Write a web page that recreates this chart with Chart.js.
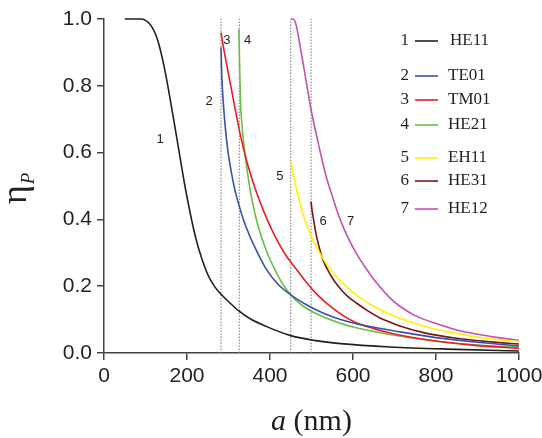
<!DOCTYPE html>
<html>
<head>
<meta charset="utf-8">
<script src="https://cdn.jsdelivr.net/npm/chart.js@4.4.1/dist/chart.umd.min.js"></script>
<style>
  body { margin: 0; background: #fff; }
  canvas { display: block; }
</style>
</head>
<body>
<canvas id="chart" width="542" height="438"></canvas>
<script>
// axis ticks
const xTicks = [0, 200, 400, 600, 800, 1000];
const yTicks = [0.0, 0.2, 0.4, 0.6, 0.8, 1.0];

// mode names and their numbers in the legend
const modeNums = ['1', '2', '3', '4', '5', '6', '7'];
const modeNames = ['HE11', 'TE01', 'TM01', 'HE21', 'EH11', 'HE31', 'HE12'];

// cutoff radii (dotted lines), nm
const cutoffs = [282, 326, 450, 499];

// 1 HE11
const he11X = [50, 90, 100, 108, 116, 124, 132, 141, 150, 165, 180, 195, 210, 222, 235, 250, 267, 285, 305, 325, 350, 392, 450, 510, 570, 690, 850, 1000];
const he11Y = [1.0, 1.0, 0.996, 0.988, 0.975, 0.955, 0.925, 0.88, 0.825, 0.72, 0.61, 0.50, 0.405, 0.34, 0.285, 0.235, 0.198, 0.172, 0.148, 0.126, 0.104, 0.079, 0.052, 0.037, 0.028, 0.018, 0.011, 0.006];
// 2 TE01
const te01X = [282, 283, 285, 288, 292, 298, 307, 315, 324, 337, 352, 370, 392, 420, 450, 490, 529, 570, 600, 650, 700, 800, 900, 1000];
const te01Y = [0.915, 0.86, 0.80, 0.74, 0.68, 0.61, 0.54, 0.49, 0.448, 0.395, 0.348, 0.30, 0.249, 0.205, 0.174, 0.143, 0.119, 0.10, 0.09, 0.077, 0.066, 0.046, 0.032, 0.021];
// 3 TM01
const tm01X = [282, 290, 300, 310, 320, 330, 340, 350, 363, 376, 393, 412, 437, 464, 490, 512, 550, 600, 650, 700, 800, 900, 1000];
const tm01Y = [0.959, 0.90, 0.835, 0.77, 0.705, 0.645, 0.593, 0.548, 0.497, 0.452, 0.40, 0.35, 0.295, 0.25, 0.208, 0.177, 0.135, 0.095, 0.073, 0.057, 0.036, 0.022, 0.014];
// 4 HE21
const he21X = [325, 326, 327, 329, 332, 337, 344, 350, 358, 368, 380, 395, 412, 430, 450, 480, 516, 569, 600, 700, 800, 900, 1000];
const he21Y = [0.969, 0.91, 0.85, 0.75, 0.69, 0.625, 0.555, 0.505, 0.45, 0.395, 0.345, 0.295, 0.249, 0.208, 0.174, 0.14, 0.115, 0.089, 0.078, 0.053, 0.035, 0.024, 0.017];
// 5 EH11
const eh11X = [450, 455, 462, 472, 485, 499, 515, 533, 555, 585, 620, 650, 690, 750, 800, 850, 900, 950, 1000];
const eh11Y = [0.575, 0.54, 0.50, 0.45, 0.395, 0.35, 0.31, 0.272, 0.235, 0.198, 0.163, 0.14, 0.115, 0.088, 0.071, 0.058, 0.048, 0.04, 0.034];
// 6 HE31
const he31X = [499, 501, 505, 512, 520, 528, 545, 565, 585, 609, 635, 665, 690, 713, 770, 850, 925, 1000];
const he31Y = [0.453, 0.43, 0.40, 0.35, 0.31, 0.278, 0.235, 0.199, 0.172, 0.149, 0.127, 0.105, 0.092, 0.081, 0.061, 0.044, 0.034, 0.027];
// 7 HE12
const he12X = [451, 456, 461, 466, 471, 478, 485, 498, 515, 535, 550, 569, 590, 612, 636, 660, 689, 713, 750, 800, 850, 900, 950, 1000];
const he12Y = [1.0, 1.0, 0.99, 0.965, 0.93, 0.88, 0.83, 0.735, 0.635, 0.53, 0.47, 0.40, 0.34, 0.29, 0.245, 0.205, 0.165, 0.14, 0.112, 0.088, 0.069, 0.056, 0.046, 0.038];

const curveX = [he11X, te01X, tm01X, he21X, eh11X, he31X, he12X];
const curveY = [he11Y, te01Y, tm01Y, he21Y, eh11Y, he31Y, he12Y];
const colors = ['#231f20', '#3553a8', '#ed1c24', '#6cbd45', '#fff200', '#7b1418', '#c252b2'];

const ink = '#231f20';
const sans = '"Liberation Sans", Arial, sans-serif';
const serif = '"Liberation Serif", "Times New Roman", serif';

const datasets = curveX.map((xs, i) => ({
    data: xs.map((x, j) => ({ x, y: curveY[i][j] })),
    borderColor: colors[i],
    borderWidth: 1.6,
    pointRadius: 0,
    showLine: true,
    cubicInterpolationMode: 'monotone',
    clip: 4
}));

cutoffs.forEach((c) => {
    datasets.push({
        data: [{ x: c, y: 0 }, { x: c, y: 1 }],
        borderColor: '#777',
        borderWidth: 1,
        borderDash: [1.5, 1.5],
        pointRadius: 0,
        showLine: true
    });
});

// number tags next to curves, in data units
const tagPos = [[135, 0.638], [253, 0.754], [296, 0.937], [346, 0.937], [424, 0.528], [528, 0.393], [594, 0.393]];
// legend rows, in pixels
const legendRows = [41, 76, 100, 125, 158, 181, 209];

const annotate = {
    id: 'annotate',
    afterDraw(chart) {
        const { ctx, scales: { x, y } } = chart;
        ctx.save();
        ctx.fillStyle = ink;

        ctx.font = '13px ' + sans;
        ctx.textAlign = 'center';
        ctx.textBaseline = 'middle';
        modeNums.forEach((n, i) => {
            ctx.fillText(n, x.getPixelForValue(tagPos[i][0]), y.getPixelForValue(tagPos[i][1]));
        });

        ctx.font = '17px ' + serif;
        legendRows.forEach((ry, i) => {
            ctx.textAlign = 'right';
            ctx.fillText(modeNums[i], 409, ry);
            ctx.strokeStyle = colors[i];
            ctx.lineWidth = 1.6;
            ctx.beginPath();
            ctx.moveTo(415, ry);
            ctx.lineTo(438, ry);
            ctx.stroke();
            ctx.textAlign = 'left';
            ctx.fillText(modeNames[i], i === 0 ? 450 : 448, ry);
        });

        // x title: a (nm)
        ctx.textBaseline = 'alphabetic';
        ctx.textAlign = 'left';
        ctx.font = 'italic 30px ' + serif;
        const aw = ctx.measureText('a').width;
        ctx.font = '30px ' + serif;
        const rest = ' (nm)';
        const rw = ctx.measureText(rest).width;
        const cx = (x.left + x.right) / 2;
        const sx = cx - (aw + rw) / 2;
        ctx.font = 'italic 30px ' + serif;
        ctx.fillText('a', sx, 430);
        ctx.font = '30px ' + serif;
        ctx.fillText(rest, sx + aw, 430);

        // y title: eta_P
        ctx.translate(26, 204);
        ctx.rotate(-Math.PI / 2);
        ctx.font = '36px ' + serif;
        ctx.fillText('η', 0, 0);
        const ew = ctx.measureText('η').width;
        ctx.font = 'italic 19px ' + serif;
        ctx.fillText('P', ew + 1, 8);
        ctx.restore();
    }
};

new Chart(document.getElementById('chart'), {
    type: 'scatter',
    data: { datasets },
    options: {
        responsive: false,
        animation: false,
        layout: { padding: { top: 19, right: 23, left: 0, bottom: 0 } },
        plugins: { legend: { display: false }, tooltip: { enabled: false } },
        scales: {
            x: {
                type: 'linear',
                min: 0,
                max: 1000,
                afterBuildTicks: (s) => { s.ticks = xTicks.map((v) => ({ value: v })); },
                afterFit: (s) => { s.height = 85; s.paddingLeft = 0; s.paddingRight = 0; },
                ticks: { color: ink, font: { family: sans, size: 21 }, padding: 4, maxRotation: 0, callback: (v) => String(v) },
                grid: { drawOnChartArea: false, drawTicks: true, tickLength: 7, color: '#444', lineWidth: 1.5 },
                border: { color: '#444', width: 1.5 }
            },
            y: {
                type: 'linear',
                min: 0,
                max: 1,
                afterBuildTicks: (s) => { s.ticks = yTicks.map((v) => ({ value: v })); },
                afterFit: (s) => { s.width = 104; s.paddingTop = 0; s.paddingBottom = 0; },
                ticks: { color: ink, font: { family: sans, size: 21 }, padding: 5, callback: (v) => v.toFixed(1) },
                grid: { drawOnChartArea: false, drawTicks: true, tickLength: 7, color: '#444', lineWidth: 1.5 },
                border: { color: '#444', width: 1.5 }
            }
        }
    },
    plugins: [annotate]
});
</script>
</body>
</html>
